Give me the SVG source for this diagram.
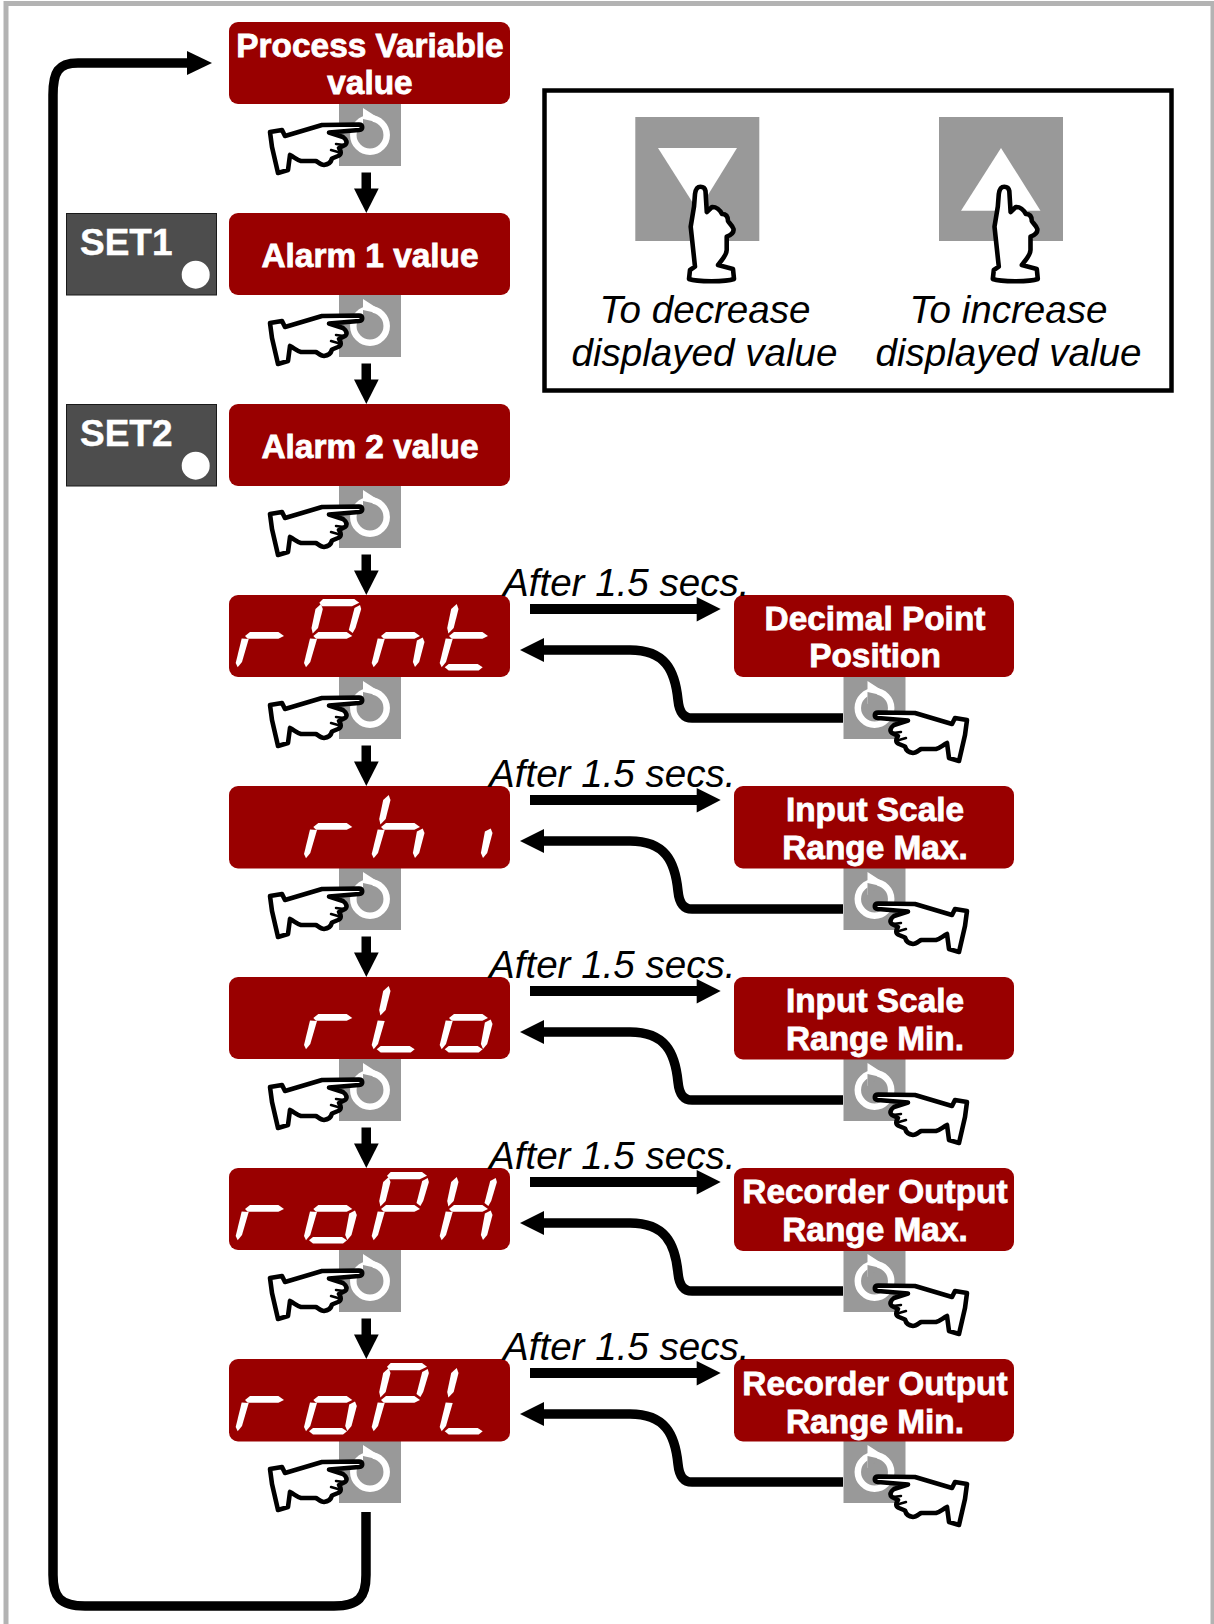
<svg xmlns="http://www.w3.org/2000/svg" width="1214" height="1624" viewBox="0 0 1214 1624">
<style>
.box{fill:#990000}
.btn{fill:#999999}
.seg{fill:#ffffff}
.lbl{font-family:"Liberation Sans",Arial,sans-serif;font-weight:700;font-size:33.4px;fill:#fff;text-anchor:middle;stroke:#fff;stroke-width:.8}
.set-t{font-family:"Liberation Sans",Arial,sans-serif;font-weight:700;font-size:37px;fill:#fff;stroke:#fff;stroke-width:.4}
.it{font-family:"Liberation Sans",Arial,sans-serif;font-style:italic;font-size:38.6px;fill:#000}
.mid{text-anchor:middle}
.ln{fill:none;stroke:#000;stroke-width:9.5}
.hand{fill:#fff;stroke:#000;stroke-width:4.6;stroke-linejoin:round;stroke-linecap:round}
.set{fill:#4d4d4d;stroke:#1a1a1a;stroke-width:1}
</style>
<defs>
<polygon id="a" class="seg" points="14.3,7.7 18,4 49.3,4 54.3,7.7 47,11.300 17,11.300"/>
<polygon id="b" class="seg" points="55,10 56.200,14 50.500,33 47.700,38 43.800,35 49.500,13"/>
<polygon id="c" class="seg" points="50,42.500 51.800,47 46.500,67 42.300,72 40.200,67 44.200,45.500"/>
<polygon id="d" class="seg" points="4,72.300 8,69 37,69 42,72.300 38,75.500 8,75.500"/>
<polygon id="e" class="seg" points="5,43.500 12,44 5.300,67 1,72.300 -1,68"/>
<polygon id="f" class="seg" points="16,9 17.800,14 13,33 7.700,38.500 6.500,33 10.500,14"/>
<polygon id="g" class="seg" points="8.300,41 13.300,37 41.700,37 47.300,41 41.700,43.800 11,43.800"/>
<g id="dr"><use href="#g"/><use href="#e"/></g>
<g id="dP"><use href="#a"/><use href="#b"/><use href="#f"/><use href="#g"/><use href="#e"/></g>
<g id="dn"><use href="#g"/><use href="#e"/><use href="#c"/></g>
<g id="dt"><use href="#f"/><use href="#g"/><use href="#e"/><use href="#d"/></g>
<g id="dh"><use href="#f"/><use href="#g"/><use href="#e"/><use href="#c"/></g>
<g id="dL"><use href="#f"/><use href="#e"/><use href="#d"/></g>
<g id="do"><use href="#g"/><use href="#e"/><use href="#c"/><use href="#d"/></g>
<g id="dH"><use href="#f"/><use href="#b"/><use href="#g"/><use href="#e"/><use href="#c"/></g>
<g id="hand">
<path class="hand" d="M359 124.500 C363 124.500 363.500 129.500 359 130 L329 132.500 L343 137 C347 140 347.500 143 345 145 L339 148 C341 151 342 154 338 156 L332 158.500 C331 162 329 164.500 324 165 C321 165 319 163 316 161 L301 161 C297 160 294 157 290 155 L288 170 L278 173 L272 147 L270 132 L282 130 L285 136 L322 125 Z"/>
<path d="M344 145 L336 144 M338 152 L331 150" fill="none" stroke="#000" stroke-width="2.500" stroke-linecap="round"/>
</g>
<g id="ring">
<circle cx="31" cy="31" r="16.700" fill="none" stroke="#fff" stroke-width="6.500"/>
<polygon points="24,4 41,15 31,18 24,27" fill="#fff"/>
<polygon points="24,15 24,27 31,22 35,19 33,17" fill="#999999"/>
</g>
<g id="vr"><rect x="361.500" y="-40.500" width="9.500" height="17" fill="#000"/><polygon points="354,-24.500 378.700,-24.500 366.300,0" fill="#000"/></g>
<g id="btnL"><rect class="btn" x="339" y="0" width="62" height="62"/><use href="#ring" x="339"/></g>
<g id="fwd"><rect x="530" y="9" width="168" height="10" fill="#000"/><polygon points="696.700,2 696.700,26.500 720.700,14" fill="#000"/></g>
<g id="ret"><path class="ln" d="M843 123 L692 123 C682 123 679 115 678 105 C675 75 665 55 630 55 L542 55"/><polygon points="520,55 544,43 544,67" fill="#000"/></g>
<g id="handUp">
<path class="hand" d="M700.500 186.700 C697 186.700 695.500 190 695 194 L694 206.700 L690.700 226.700 L695 266.700 L690 270 L689 279 C697 282 726 282 734 279 L733 269 L718 265 C722 260 726.700 255 726.700 250 L726.700 236.700 C731 235 734 232 733.500 229 C732 225 729 223 728 221 C728 216 726 214 722 214 C720 210 716 206.700 712 207 L706.800 212 L705.500 191 C705 188 703 186.700 700.500 186.700 Z"/>
</g>
</defs>

<g id="frame"><path d="M6 1624 V3.500 H1213 V1624" fill="none" stroke="#b3b3b3" stroke-width="5"/></g>

<g id="connectors">
<path class="ln" d="M366 1512 V1575 C366 1597 359 1606 334 1606 H85 C60 1606 53 1597 53 1575 V95 C53 72 58 63 78 63 H190"/>
<polygon points="187,51 187,75 212,63" fill="#000"/>
<use href="#vr" transform="translate(0,213)"/>
<use href="#vr" transform="translate(0,404)"/>
<use href="#vr" transform="translate(0,595)"/>
<use href="#vr" transform="translate(0,786)"/>
<use href="#vr" transform="translate(0,977)"/>
<use href="#vr" transform="translate(0,1168)"/>
<use href="#vr" transform="translate(0,1359)"/>
<use href="#fwd" transform="translate(0,595)"/><use href="#ret" transform="translate(0,595)"/>
<use href="#fwd" transform="translate(0,786)"/><use href="#ret" transform="translate(0,786)"/>
<use href="#fwd" transform="translate(0,977)"/><use href="#ret" transform="translate(0,977)"/>
<use href="#fwd" transform="translate(0,1168)"/><use href="#ret" transform="translate(0,1168)"/>
<use href="#fwd" transform="translate(0,1359)"/><use href="#ret" transform="translate(0,1359)"/>
</g>

<g id="btn-left">
<use href="#btnL" y="104"/><use href="#btnL" y="295"/><use href="#btnL" y="486"/><use href="#btnL" y="677"/><use href="#btnL" y="868"/><use href="#btnL" y="1059"/><use href="#btnL" y="1250"/><use href="#btnL" y="1441"/>
</g>
<g id="hands-left">
<use href="#hand"/><use href="#hand" y="191"/><use href="#hand" y="382"/><use href="#hand" y="573"/><use href="#hand" y="764"/><use href="#hand" y="955"/><use href="#hand" y="1146"/><use href="#hand" y="1337"/>
</g>
<g id="btn-right">
<use href="#btnL" transform="translate(504.500,677)"/><use href="#btnL" transform="translate(504.500,868)"/><use href="#btnL" transform="translate(504.500,1059)"/><use href="#btnL" transform="translate(504.500,1250)"/><use href="#btnL" transform="translate(504.500,1441)"/>
</g>
<g id="hands-right">
<use href="#hand" transform="matrix(-1 0 0 1 1237 588)"/><use href="#hand" transform="matrix(-1 0 0 1 1237 779)"/><use href="#hand" transform="matrix(-1 0 0 1 1237 970)"/><use href="#hand" transform="matrix(-1 0 0 1 1237 1161)"/><use href="#hand" transform="matrix(-1 0 0 1 1237 1352)"/>
</g>

<g id="node-pv"><rect class="box" x="229" y="22" width="281" height="82" rx="9"/><text class="lbl" x="370" y="57">Process Variable</text><text class="lbl" x="370" y="94">value</text></g>
<g id="node-set1"><rect class="set" x="66.500" y="213.500" width="150" height="81.500"/><text class="set-t" x="80" y="254.500">SET1</text><circle cx="195.700" cy="274.700" r="14" fill="#fff"/></g>
<g id="node-a1"><rect class="box" x="229" y="213" width="281" height="82" rx="9"/><text class="lbl" x="370" y="266.500">Alarm 1 value</text></g>
<g id="node-set2"><rect class="set" x="66.500" y="404.500" width="150" height="81.500"/><text class="set-t" x="80" y="445.500">SET2</text><circle cx="195.700" cy="465.700" r="14" fill="#fff"/></g>
<g id="node-a2"><rect class="box" x="229" y="404" width="281" height="82" rx="9"/><text class="lbl" x="370" y="457.500">Alarm 2 value</text></g>

<g id="node-rpnt"><rect class="box" x="229" y="595" width="281" height="82" rx="9"/>
<use href="#dr" x="236.700" y="595"/><use href="#dP" x="305" y="595"/><use href="#dn" x="372.700" y="595"/><use href="#dt" x="440.700" y="595"/></g>
<g id="node-rhi"><rect class="box" x="229" y="786" width="281" height="82.500" rx="9"/>
<use href="#dr" x="305" y="786"/><use href="#dh" x="372.700" y="786"/><use href="#c" x="440.700" y="786"/></g>
<g id="node-rlo"><rect class="box" x="229" y="977" width="281" height="82" rx="9"/>
<use href="#dr" x="305" y="977"/><use href="#dL" x="372.700" y="977"/><use href="#do" x="440.700" y="977"/></g>
<g id="node-roph"><rect class="box" x="229" y="1168" width="281" height="82" rx="9"/>
<use href="#dr" x="236.700" y="1168"/><use href="#do" x="305" y="1168"/><use href="#dP" x="372.700" y="1168"/><use href="#dH" x="440.700" y="1168"/></g>
<g id="node-ropl"><rect class="box" x="229" y="1359" width="281" height="82.500" rx="9"/>
<use href="#dr" x="236.700" y="1359"/><use href="#do" x="305" y="1359"/><use href="#dP" x="372.700" y="1359"/><use href="#dL" x="440.700" y="1359"/></g>

<g id="node-dp"><rect class="box" x="734" y="595" width="280" height="82" rx="9"/><text class="lbl" x="875" y="629.500">Decimal Point</text><text class="lbl" x="875" y="667">Position</text></g>
<g id="node-max"><rect class="box" x="734" y="786" width="280" height="82.500" rx="9"/><text class="lbl" x="875" y="821">Input Scale</text><text class="lbl" x="875" y="859">Range Max.</text></g>
<g id="node-min"><rect class="box" x="734" y="977" width="280" height="82.500" rx="9"/><text class="lbl" x="875" y="1012">Input Scale</text><text class="lbl" x="875" y="1050">Range Min.</text></g>
<g id="node-romax"><rect class="box" x="734" y="1168" width="280" height="83" rx="9"/><text class="lbl" x="875" y="1203">Recorder Output</text><text class="lbl" x="875" y="1241">Range Max.</text></g>
<g id="node-romin"><rect class="box" x="734" y="1359" width="280" height="82.500" rx="9"/><text class="lbl" x="875" y="1394.500">Recorder Output</text><text class="lbl" x="875" y="1432.500">Range Min.</text></g>

<g id="timings">
<text class="it" x="503" y="596">After 1.5 secs.</text>
<text class="it" x="489" y="787">After 1.5 secs.</text>
<text class="it" x="489" y="978">After 1.5 secs.</text>
<text class="it" x="489" y="1169">After 1.5 secs.</text>
<text class="it" x="503" y="1360">After 1.5 secs.</text>
</g>

<g id="legend">
<rect x="544.500" y="90.500" width="627" height="300" fill="#fff" stroke="#000" stroke-width="4.500"/>
<rect class="btn" x="635.300" y="117" width="124" height="124"/>
<polygon points="658,148 737,148 698,211" fill="#fff"/>
<use href="#handUp"/>
<rect class="btn" x="939" y="117" width="124" height="124"/>
<polygon points="1001,148 1040.500,210.700 961,210.700" fill="#fff"/>
<use href="#handUp" x="303.800"/>
<text class="it mid" x="705" y="322.500">To decrease</text>
<text class="it mid" x="704.500" y="365.500">displayed value</text>
<text class="it mid" x="1008.500" y="322.500">To increase</text>
<text class="it mid" x="1008.500" y="365.500">displayed value</text>
</g>
</svg>
